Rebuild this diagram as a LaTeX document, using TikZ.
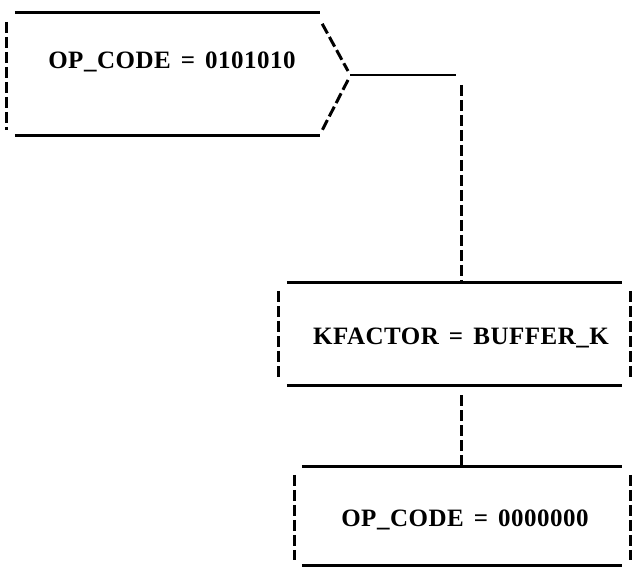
\documentclass[tikz,border=0pt]{standalone}
\usepackage{fontspec}
\newfontfamily\codefont{Liberation Serif}[LetterSpace=2,WordSpace=1.5]
\usepackage{tikz}
\tikzset{
  rim/.style={line width=3.2pt},
  dashrim/.style={line width=3pt,dash pattern=on 11pt off 4pt},
  frame/.style={draw=none,inner sep=0pt},
  codetext/.style={font=\codefont\bfseries\fontsize{25}{25}\selectfont,inner sep=0pt}
}
\begin{document}
\begin{tikzpicture}[x=1pt,y=1pt]
\useasboundingbox (0,0) rectangle (632,575);
% boxes
\node[frame,minimum width=305pt,minimum height=122pt] (op) at (167.5,501) {};
\node[frame,minimum width=335pt,minimum height=102pt] (kf) at (454.5,241) {};
\node[frame,minimum width=320pt,minimum height=98pt] (zero) at (462,59) {};
\coordinate (tip) at (348,500);
\coordinate (bend) at (461,500);
% texts
\node[codetext] (optxt) at (172,513) {OP\_CODE = 0101010};
\node[codetext] (kftxt) at (461,237) {KFACTOR = BUFFER\_K};
\node[codetext] (zerotxt) at (465,55) {OP\_CODE = 0000000};
% first box with pointed end
\draw[rim] (op.north west) -- (op.north east);
\draw[rim] (op.south west) -- (op.south east);
\draw[dashrim] ([xshift=-8pt,yshift=-9pt]op.north west) -- ([xshift=-8pt,yshift=5pt]op.south west);
\draw[dashrim] ([xshift=2pt,yshift=-11pt]op.north east) -- ([yshift=4pt]tip);
\draw[dashrim] ([yshift=-5pt]tip) -- ([xshift=2pt,yshift=5pt]op.south east);
% second box
\draw[rim] (kf.north west) -- (kf.north east);
\draw[rim] (kf.south west) -- (kf.south east);
\draw[dashrim] ([xshift=-8pt,yshift=-8pt]kf.north west) -- ([xshift=-8pt,yshift=5pt]kf.south west);
\draw[dashrim] ([xshift=8pt,yshift=-8pt]kf.north east) -- ([xshift=8pt,yshift=5pt]kf.south east);
% third box
\draw[rim] (zero.north west) -- (zero.north east);
\draw[rim] (zero.south west) -- (zero.south east);
\draw[dashrim] ([xshift=-7pt,yshift=-8pt]zero.north west) -- ([xshift=-7pt,yshift=5pt]zero.south west);
\draw[dashrim] ([xshift=8pt,yshift=-8pt]zero.north east) -- ([xshift=8pt,yshift=5pt]zero.south east);
% links
\draw[line width=2.2pt] ([xshift=2pt]tip) -- ([xshift=-5pt]bend);
\draw[dashrim] ([yshift=-10pt]bend) -- (kf.north -| bend);
\draw[dashrim] ([yshift=-10pt]kf.south -| bend) -- (zero.north -| bend);
\end{tikzpicture}
\end{document}
